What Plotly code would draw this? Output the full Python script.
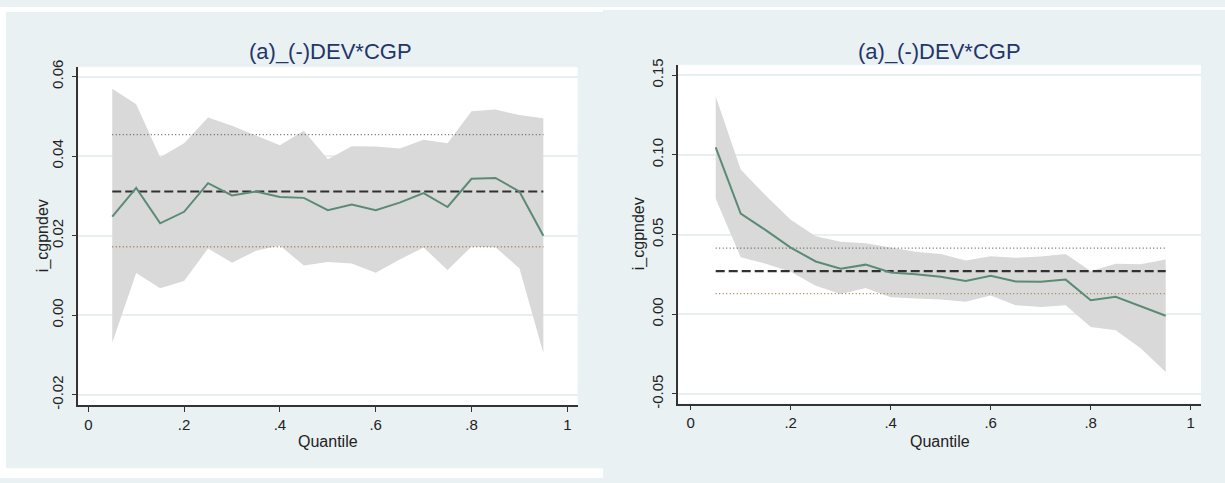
import plotly.graph_objects as go

W, H = 1225, 483

quantiles = [0.05, 0.10, 0.15, 0.20, 0.25, 0.30, 0.35, 0.40, 0.45, 0.50,
             0.55, 0.60, 0.65, 0.70, 0.75, 0.80, 0.85, 0.90, 0.95]

# Left panel
left_coef = [0.0248, 0.0320, 0.0231, 0.0260, 0.0332, 0.0301, 0.0311, 0.0297, 0.0295, 0.0264,
             0.0278, 0.0264, 0.0283, 0.0307, 0.0272, 0.0343, 0.0345, 0.0311, 0.0200]
left_upper = [0.0569, 0.0530, 0.0397, 0.0432, 0.0497, 0.0476, 0.0452, 0.0427, 0.0464, 0.0392,
              0.0425, 0.0424, 0.0419, 0.0441, 0.0432, 0.0513, 0.0517, 0.0503, 0.0495]
left_lower = [-0.0069, 0.0106, 0.0068, 0.0086, 0.0168, 0.0132, 0.0162, 0.0175, 0.0125, 0.0134,
              0.0130, 0.0107, 0.0140, 0.0170, 0.0114, 0.0172, 0.0171, 0.0118, -0.0095]
left_ols, left_ols_hi, left_ols_lo = 0.0311, 0.0454, 0.0172

# Right panel
right_coef = [0.1047, 0.0631, 0.0528, 0.0418, 0.0331, 0.0286, 0.0311, 0.0262, 0.0250, 0.0235,
              0.0209, 0.0241, 0.0205, 0.0203, 0.0217, 0.0088, 0.0109, 0.0048, -0.0010]
right_upper = [0.1367, 0.0908, 0.0745, 0.0592, 0.0490, 0.0455, 0.0446, 0.0419, 0.0392, 0.0378,
               0.0337, 0.0364, 0.0354, 0.0362, 0.0378, 0.0270, 0.0317, 0.0313, 0.0343]
right_lower = [0.0725, 0.0357, 0.0317, 0.0266, 0.0178, 0.0127, 0.0164, 0.0107, 0.0099, 0.0092,
               0.0078, 0.0117, 0.0056, 0.0045, 0.0056, -0.0081, -0.0101, -0.0214, -0.0362]
right_ols, right_ols_hi, right_ols_lo = 0.0270, 0.0415, 0.0129

x_tickvals = [0, 0.2, 0.4, 0.6, 0.8, 1]
x_ticktext = ["0", ".2", ".4", ".6", ".8", "1"]
left_yticks = [-0.02, 0.0, 0.02, 0.04, 0.06]
left_yticktext = ["-0.02", "0.00", "0.02", "0.04", "0.06"]
right_yticks = [-0.05, 0.0, 0.05, 0.10, 0.15]
right_yticktext = ["-0.05", "0.00", "0.05", "0.10", "0.15"]

panel_title = "(a)_(-)DEV*CGP"
y_title = "i_cgpndev"
x_title = "Quantile"

BG = "#E9F1F3"
GREEN = "#5B8B75"
BAND = "#D9D9D9"
AXC = "#333333"
FONT = "Liberation Sans, Arial, sans-serif"

fig = go.Figure()


def add_panel(xa, ya, coef, upper, lower, ols, hi, lo):
    fig.add_trace(go.Scatter(x=quantiles + quantiles[::-1], y=upper + lower[::-1],
                             fill="toself", fillcolor=BAND, line=dict(width=0),
                             mode="lines", xaxis=xa, yaxis=ya, hoverinfo="skip",
                             showlegend=False))
    x_ends = [quantiles[0], quantiles[-1]]
    fig.add_trace(go.Scatter(x=x_ends, y=[hi, hi], mode="lines",
                             line=dict(color="#5E6650", width=1.4, dash="1px,2.5px"),
                             xaxis=xa, yaxis=ya, showlegend=False))
    fig.add_trace(go.Scatter(x=x_ends, y=[lo, lo], mode="lines",
                             line=dict(color="#A7784A", width=1.4, dash="1px,2.5px"),
                             xaxis=xa, yaxis=ya, showlegend=False))
    fig.add_trace(go.Scatter(x=x_ends, y=[ols, ols], mode="lines",
                             line=dict(color="#333031", width=2.2, dash="9px,4px"),
                             xaxis=xa, yaxis=ya, showlegend=False))
    fig.add_trace(go.Scatter(x=quantiles, y=coef, mode="lines",
                             line=dict(color=GREEN, width=2),
                             xaxis=xa, yaxis=ya, showlegend=False))


add_panel("x", "y", left_coef, left_upper, left_lower, left_ols, left_ols_hi, left_ols_lo)
add_panel("x2", "y2", right_coef, right_upper, right_lower, right_ols, right_ols_hi, right_ols_lo)


def px_x(p):
    return p / W


def px_y(p):
    return 1 - p / H


axis_common = dict(showline=True, linecolor=AXC, linewidth=1.5, ticks="outside",
                   ticklen=5, tickwidth=1.3, tickcolor=AXC, mirror=False,
                   zeroline=False, tickfont=dict(family=FONT, size=15, color="#222222"))

xl = [(78.3 - 88.3) / 479, (577.7 - 88.3) / 479]
xr = [(678.3 - 690.7) / 500, (1201 - 690.7) / 500]

fig.update_layout(
    width=W, height=H,
    margin=dict(l=0, r=0, t=0, b=0),
    paper_bgcolor=BG, plot_bgcolor="white",
    showlegend=False,
    xaxis=dict(domain=[px_x(78.3), px_x(577.7)], range=xl, tickvals=x_tickvals,
               ticktext=x_ticktext, showgrid=False, anchor="y", **axis_common),
    yaxis=dict(domain=[px_y(408.3), px_y(61.7)], range=[-0.0226, 0.06235],
               tickvals=left_yticks, ticktext=left_yticktext, tickangle=-90,
               showgrid=True, gridcolor="#E7EFF1", gridwidth=1.5, anchor="x",
               ticklabelstandoff=3, **axis_common),
    xaxis2=dict(domain=[px_x(678.3), px_x(1201)], range=xr, tickvals=x_tickvals,
                ticktext=x_ticktext, showgrid=False, anchor="y2", **axis_common),
    yaxis2=dict(domain=[px_y(406.7), px_y(59.3)], range=[-0.0561, 0.1565],
                tickvals=right_yticks, ticktext=right_yticktext, tickangle=-90,
                showgrid=True, gridcolor="#E7EFF1", gridwidth=1.5, anchor="x2",
                ticklabelstandoff=3, **axis_common),
)

# white margins around the panels
for x0, y0, x1, y1 in [(0, 0, 603, 5), (603, 0, W, 3), (0, 0, 6, H), (0, 473, 603, H)]:
    fig.add_shape(type="rect", xref="paper", yref="paper",
                  x0=px_x(x0), x1=px_x(x1), y0=px_y(y1), y1=px_y(y0),
                  fillcolor="white", line=dict(width=0), layer="below")

ann = []
for cx in (330, 939.6):
    ann.append(dict(text=panel_title, x=px_x(cx), y=px_y(46), xref="paper", yref="paper",
                    showarrow=False, xanchor="center", yanchor="middle",
                    font=dict(family=FONT, size=22, color="#24356A")))
for cx in (328, 939.6):
    ann.append(dict(text=x_title, x=px_x(cx), y=px_y(446), xref="paper", yref="paper",
                    showarrow=False, xanchor="center", yanchor="middle",
                    font=dict(family=FONT, size=16, color="#222222")))
for cx, cy in ((43, 235), (639, 233)):
    ann.append(dict(text=y_title, x=px_x(cx), y=px_y(cy), xref="paper", yref="paper",
                    showarrow=False, xanchor="center", yanchor="middle", textangle=-90,
                    font=dict(family=FONT, size=16, color="#222222")))
fig.update_layout(annotations=ann)

fig.write_html("out.html", config={"displayModeBar": False},
               post_script="document.body.style.margin='0';document.body.style.overflow='hidden';")
